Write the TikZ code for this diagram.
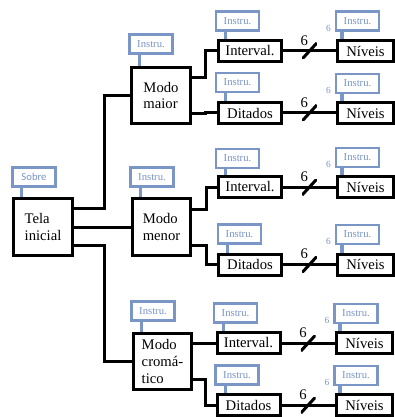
\documentclass[tikz,border=0pt]{standalone}
\usepackage{fontspec}
\setmainfont{Liberation Serif}
\newfontfamily\sobrefont{Carlito}
\usetikzlibrary{positioning}
\definecolor{tagblue}{RGB}{122, 150, 198}
\definecolor{tagtext}{RGB}{120, 148, 196}

\begin{document}
\begin{tikzpicture}[x=0.75pt, y=-0.75pt,
    screen/.style={rectangle, draw, line width=2.25pt, minimum width=44pt, minimum height=42.5pt, inner sep=1pt, align=left, font=\fontsize{11}{12.5}\selectfont},
    item/.style={rectangle, draw, line width=2.25pt, minimum width=47.25pt, minimum height=15.75pt, inner sep=0pt, font=\fontsize{11}{12.5}\selectfont},
    level/.style={item, minimum width=42pt},
    tag/.style={rectangle, draw=tagblue, line width=2pt, minimum width=32.25pt, minimum height=14.25pt, inner sep=0pt, text=tagtext, font=\fontsize{8}{8}\selectfont},
    multitag/.style={tag, label={[text=tagtext, font=\fontsize{7}{7}\selectfont, inner sep=0pt, xshift=-2.8pt, yshift=-5.25pt]west:6}},
    stem/.style={draw=tagblue, line width=2pt},
    link/.style={line width=2.25pt},
    bus/.style={inner sep=0pt, minimum width=11pt, minimum height=12pt,
        path picture={\draw[line width=2.25pt] (path picture bounding box.south west) -- (path picture bounding box.north east);},
        label={[inner sep=0pt, xshift=-4pt, yshift=-4pt, font=\fontsize{11}{11}\selectfont]above:6}}]
    \useasboundingbox (0,0) rectangle (394,417);

    % tela inicial
    \node[screen] (tela) at (43, 227) {Tela\\inicial};
    \node[tag, font=\sobrefont\fontsize{8}{8}\selectfont] (sobre) at (34, 177) {Sobre};
    \draw[stem] ([xshift=7.5pt]sobre.south west) -- ([xshift=7.5pt]sobre.south west |- tela.north);

    % modos
    \node[screen] (maior) at (161, 95.5) {Modo\\maior};
    \node[screen] (menor) at (161.5, 227) {Modo\\menor};
    \node[screen] (crom) at (162.5, 361.5) {Modo\\cromá-\\tico};
    \node[tag] (tagM) at (151, 44) {Instru.};
    \node[tag] (tagN) at (152, 177) {Instru.};
    \node[tag] (tagC) at (153, 311) {Instru.};
    \draw[stem] ([xshift=8.25pt]tagM.south west) -- ([xshift=8.25pt]tagM.south west |- maior.north);
    \draw[stem] ([xshift=8.25pt]tagN.south west) -- ([xshift=8.25pt]tagN.south west |- menor.north);
    \draw[stem] ([xshift=8.25pt]tagC.south west) -- ([xshift=8.25pt]tagC.south west |- crom.north);

    \coordinate (trunk) at (104, 227);
    \draw[link] ([yshift=14.25pt]tela.east) -- ([yshift=14.25pt]tela.east -| trunk) |- (maior.west);
    \draw[link] (tela.east) -- (menor.west);
    \draw[link] ([yshift=-13.5pt]tela.east) -- ([yshift=-13.5pt]tela.east -| trunk) |- (crom.west);

    % intervalos e ditados
    \node[item] (intA) at (250, 51) {Interval.};
    \node[item] (ditA) at (250, 113) {Ditados};
    \node[item] (intB) at (250, 187) {Interval.};
    \node[item] (ditB) at (250, 264.5) {Ditados};
    \node[item] (intC) at (248.5, 343) {Interval.};
    \node[item] (ditC) at (248.5, 405) {Ditados};
    \node[tag] (tagIA) at (237.5, 21) {Instru.};
    \node[tag] (tagDA) at (237.5, 82.5) {Instru.};
    \node[tag] (tagIB) at (237.5, 158.5) {Instru.};
    \node[tag] (tagDB) at (239.5, 234) {Instru.};
    \node[tag] (tagIC) at (235.5, 313) {Instru.};
    \node[tag] (tagDC) at (237, 375) {Instru.};
    \draw[stem] ([xshift=8.25pt]tagIA.south west) -- ([xshift=8.25pt]tagIA.south west |- intA.north);
    \draw[stem] ([xshift=8.25pt]tagDA.south west) -- ([xshift=8.25pt]tagDA.south west |- ditA.north);
    \draw[stem] ([xshift=8.25pt]tagIB.south west) -- ([xshift=8.25pt]tagIB.south west |- intB.north);
    \draw[stem] ([xshift=8.25pt]tagDB.south west) -- ([xshift=8.25pt]tagDB.south west |- ditB.north);
    \draw[stem] ([xshift=8.25pt]tagIC.south west) -- ([xshift=8.25pt]tagIC.south west |- intC.north);
    \draw[stem] ([xshift=8.25pt]tagDC.south west) -- ([xshift=8.25pt]tagDC.south west |- ditC.north);

    \coordinate (brM) at (205, 95.5);
    \coordinate (brN) at (206, 227);
    \coordinate (brC) at (205, 361.5);
    \draw[link] ([yshift=13.5pt]maior.east) -- ([yshift=13.5pt]maior.east -| brM) |- (intA.west);
    \draw[link] ([yshift=-13.5pt]maior.east) -- ([yshift=-13.5pt]maior.east -| brM) |- (ditA.west);
    \draw[link] ([yshift=13.5pt]menor.east) -- ([yshift=13.5pt]menor.east -| brN) |- (intB.west);
    \draw[link] ([yshift=-13.5pt]menor.east) -- ([yshift=-13.5pt]menor.east -| brN) |- (ditB.west);
    \draw[link] ([yshift=13.5pt]crom.east) -- ([yshift=13.5pt]crom.east -| brC) |- (intC.west);
    \draw[link] ([yshift=-13.5pt]crom.east) -- ([yshift=-13.5pt]crom.east -| brC) |- (ditC.west);

    % niveis
    \node[level] (nivA) at (365.5, 51) {Níveis};
    \node[level] (nivB) at (365.5, 113) {Níveis};
    \node[level] (nivC) at (365.5, 187) {Níveis};
    \node[level] (nivD) at (365.5, 264.5) {Níveis};
    \node[level] (nivE) at (364.5, 343) {Níveis};
    \node[level] (nivF) at (364.5, 405) {Níveis};
    \node[multitag] (tagNA) at (357.5, 21) {Instru.};
    \node[multitag] (tagNB) at (357.5, 83.5) {Instru.};
    \node[multitag] (tagNC) at (357.5, 157.5) {Instru.};
    \node[multitag] (tagND) at (357.5, 234.5) {Instru.};
    \node[multitag] (tagNE) at (356, 313.5) {Instru.};
    \node[multitag] (tagNF) at (356, 375.5) {Instru.};
    \draw[stem, line width=3pt] ([xshift=5.25pt]tagNA.south west) -- ([xshift=5.25pt]tagNA.south west |- nivA.north);
    \draw[stem, line width=3pt] ([xshift=5.25pt]tagNB.south west) -- ([xshift=5.25pt]tagNB.south west |- nivB.north);
    \draw[stem, line width=3pt] ([xshift=5.25pt]tagNC.south west) -- ([xshift=5.25pt]tagNC.south west |- nivC.north);
    \draw[stem, line width=3pt] ([xshift=5.25pt]tagND.south west) -- ([xshift=5.25pt]tagND.south west |- nivD.north);
    \draw[stem, line width=3pt] ([xshift=5.25pt]tagNE.south west) -- ([xshift=5.25pt]tagNE.south west |- nivE.north);
    \draw[stem, line width=3pt] ([xshift=5.25pt]tagNF.south west) -- ([xshift=5.25pt]tagNF.south west |- nivF.north);

    \draw[link] (intA.east) -- node[bus] (busA) {} (nivA.west);
    \draw[link] (ditA.east) -- node[bus] (busB) {} (nivB.west);
    \draw[link] (intB.east) -- node[bus] (busC) {} (nivC.west);
    \draw[link] (ditB.east) -- node[bus] (busD) {} (nivD.west);
    \draw[link] (intC.east) -- node[bus] (busE) {} (nivE.west);
    \draw[link] (ditC.east) -- node[bus] (busF) {} (nivF.west);
\end{tikzpicture}
\end{document}
